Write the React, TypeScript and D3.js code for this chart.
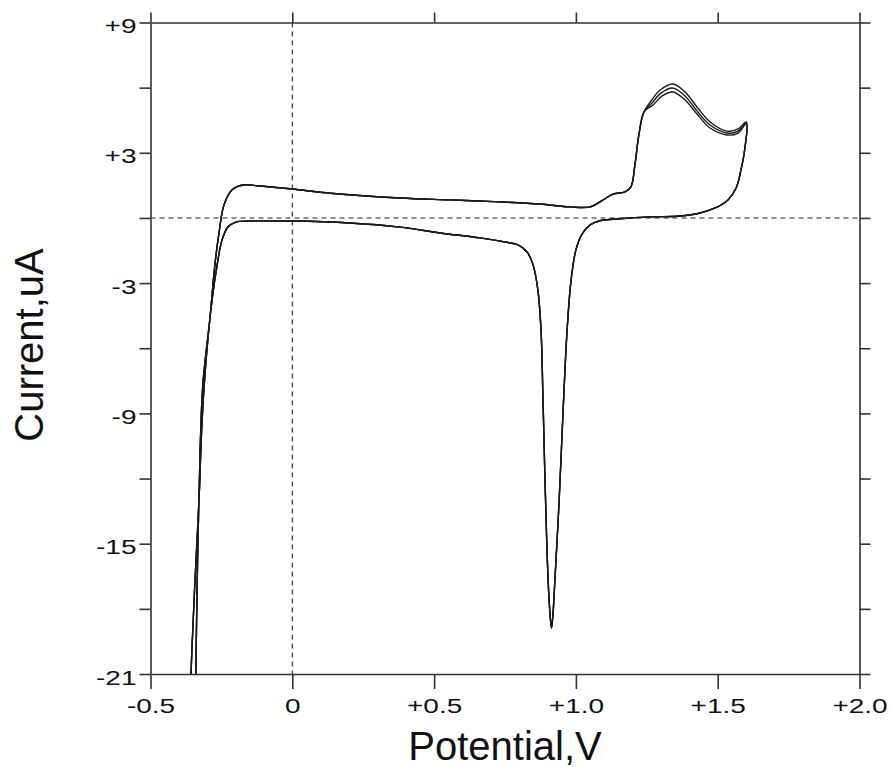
import { useRef, useEffect } from "react";
import * as d3 from "d3";

// Cyclic voltammogram, values as [potential V, current uA]
// anodic sweep from the hydrogen region up to the oxide peak (same for all cycles)
const forwardSweep: [number, number][] = [
  [-0.341, -21.73], [-0.334, -15.75], [-0.325, -10.68], [-0.315, -7.6],
  [-0.29, -4.56], [-0.273, -2.16], [-0.258, -0.65], [-0.241, 0.6],
  [-0.213, 1.29], [-0.174, 1.52], [-0.114, 1.47], [0.0, 1.33],
  [0.134, 1.14], [0.38, 0.92], [0.557, 0.83], [0.732, 0.74],
  [0.873, 0.64], [0.979, 0.51], [1.05, 0.51], [1.096, 0.83],
  [1.131, 1.1], [1.173, 1.2], [1.194, 1.43], [1.208, 2.44],
  [1.222, 3.82], [1.24, 4.88],
];

// oxidation peak up to the vertex, one per cycle
const peakCycle1: [number, number][] = [
  [1.265, 5.39], [1.297, 5.89], [1.342, 6.17], [1.385, 5.8], [1.427, 5.11],
  [1.473, 4.42], [1.533, 4.0], [1.572, 4.1], [1.601, 4.42],
];
const peakCycle2: [number, number][] = [
  [1.268, 5.29], [1.3, 5.75], [1.342, 5.98], [1.385, 5.62], [1.427, 4.93],
  [1.473, 4.28], [1.533, 3.91], [1.572, 4.0], [1.601, 4.37],
];
const peakCycle3: [number, number][] = [
  [1.272, 5.2], [1.304, 5.62], [1.342, 5.8], [1.385, 5.43], [1.427, 4.79],
  [1.473, 4.14], [1.533, 3.82], [1.572, 3.91], [1.601, 4.33],
];

// cathodic sweep back from the vertex (same for all cycles)
const reverseSweep: [number, number][] = [
  [1.595, 3.13], [1.582, 2.21], [1.565, 1.38], [1.536, 0.83], [1.491, 0.46],
  [1.438, 0.23], [1.367, 0.09], [1.261, 0.05], [1.155, -0.04], [1.085, -0.13],
  [1.05, -0.32], [1.022, -0.73], [1.0, -1.47], [0.983, -2.86], [0.969, -5.16],
  [0.955, -8.84], [0.941, -12.98], [0.926, -16.67], [0.919, -18.28],
  [0.914, -18.88], [0.909, -18.28], [0.902, -16.67], [0.891, -12.06],
  [0.884, -8.38], [0.877, -5.16], [0.866, -3.32], [0.849, -2.16],
  [0.828, -1.57], [0.796, -1.24], [0.75, -1.11], [0.662, -0.92],
  [0.521, -0.69], [0.38, -0.42], [0.203, -0.23], [0.0, -0.14],
  [-0.149, -0.14], [-0.199, -0.19], [-0.227, -0.42], [-0.248, -1.02],
  [-0.265, -2.16], [-0.283, -3.78], [-0.304, -6.54], [-0.318, -9.3],
  [-0.329, -12.98], [-0.343, -16.67], [-0.354, -19.89], [-0.359, -21.73],
];

const peaks = [peakCycle1, peakCycle2, peakCycle3];

const xTicks = [-0.5, 0, 0.5, 1.0, 1.5, 2.0];
const xTickLabels = ["-0.5", "0", "+0.5", "+1.0", "+1.5", "+2.0"];
const yTicks = [9, 6, 3, 0, -3, -6, -9, -12, -15, -18, -21];
const yTickLabels = ["+9", "", "+3", "", "-3", "", "-9", "", "-15", "", "-21"];

const FONT = "'Liberation Sans', Arial, Helvetica, sans-serif";

export default function App() {
  const ref = useRef<SVGSVGElement>(null);

  useEffect(() => {
    const svg = d3.select(ref.current);
    svg.selectAll("*").remove();

    const margin = { top: 22.5, right: 30.5, bottom: 93, left: 150.5 },
      width = 890 - margin.left - margin.right,
      height = 767 - margin.top - margin.bottom;

    const x = d3.scaleLinear().domain([-0.5, 2.0]).range([0, width]);
    const y = d3.scaleLinear().domain([-21, 9]).range([height, 0]);

    const g = svg
      .append("g")
      .attr("transform", `translate(${margin.left}, ${margin.top})`);

    g.append("clipPath")
      .attr("id", "plot-clip")
      .append("rect")
      .attr("width", width)
      .attr("height", height);

    // zero lines
    g.append("line")
      .attr("x1", x(0)).attr("x2", x(0))
      .attr("y1", 0).attr("y2", height)
      .attr("stroke", "#222")
      .attr("stroke-width", 1.1)
      .attr("stroke-dasharray", "5,4");
    g.append("line")
      .attr("x1", 0).attr("x2", width)
      .attr("y1", y(0)).attr("y2", y(0))
      .attr("stroke", "#222")
      .attr("stroke-width", 1.1)
      .attr("stroke-dasharray", "5,4");

    // Axes
    const fmtX = (d: number) => xTickLabels[xTicks.indexOf(d)];
    const fmtY = (d: number) => yTickLabels[yTicks.indexOf(d)];

    const axes = [
      g.append("g").call(d3.axisTop(x).tickValues(xTicks).tickSize(10).tickSizeOuter(0).tickFormat(() => "")),
      g.append("g").attr("transform", `translate(${width},0)`)
        .call(d3.axisRight(y).tickValues(yTicks).tickSize(11).tickSizeOuter(0).tickFormat(() => "")),
      g.append("g").attr("transform", `translate(0,${height})`)
        .call(d3.axisBottom(x).tickValues(xTicks).tickSize(15).tickSizeOuter(0).tickPadding(10).tickFormat(fmtX as any)),
      g.append("g")
        .call(d3.axisLeft(y).tickValues(yTicks).tickSize(11).tickSizeOuter(0).tickPadding(3).tickFormat(fmtY as any)),
    ];
    axes.forEach((a) => {
      a.select(".domain").attr("stroke", "#333").attr("stroke-width", 1.6);
      a.selectAll(".tick line").attr("stroke", "#333").attr("stroke-width", 1.6);
      a.selectAll<SVGTextElement, number>(".tick text")
        .attr("fill", "#111")
        .style("font-family", FONT)
        .style("font-size", "20px")
        .each(function () {
          // the reference labels are drawn wide: stretch them horizontally
          const w = this.getComputedTextLength();
          if (w > 0) {
            d3.select(this)
              .attr("textLength", w * 1.4)
              .attr("lengthAdjust", "spacingAndGlyphs");
          }
        });
    });
    axes[3].selectAll(".tick text").attr("dy", "0.5em");

    // Axis titles
    g.append("text")
      .attr("text-anchor", "middle")
      .attr("x", 505 - margin.left)
      .attr("y", 760 - margin.top)
      .style("font-family", FONT)
      .style("font-size", "40px")
      .attr("fill", "#111")
      .text("Potential,V");

    g.append("text")
      .attr("text-anchor", "middle")
      .attr("transform", `translate(${43 - margin.left}, ${345 - margin.top}) rotate(-90)`)
      .style("font-family", FONT)
      .style("font-size", "40px")
      .attr("fill", "#111")
      .text("Current,uA");

    // Data
    const line = d3
      .line<[number, number]>()
      .x((d) => x(d[0]))
      .y((d) => y(d[1]))
      .curve(d3.curveCatmullRom.alpha(0.5));

    const curves = g.append("g").attr("clip-path", "url(#plot-clip)");
    peaks.forEach((p) => {
      curves
        .append("path")
        .datum([...forwardSweep, ...p, ...reverseSweep])
        .attr("d", line)
        .attr("fill", "none")
        .attr("stroke", "#1a1a1a")
        .attr("stroke-width", 1.4)
        .attr("stroke-linejoin", "round");
    });
  }, []);

  return (
    <svg
      ref={ref}
      width={890}
      height={767}
      style={{ position: "absolute", left: 0, top: 0, background: "#fff" }}
    />
  );
}
